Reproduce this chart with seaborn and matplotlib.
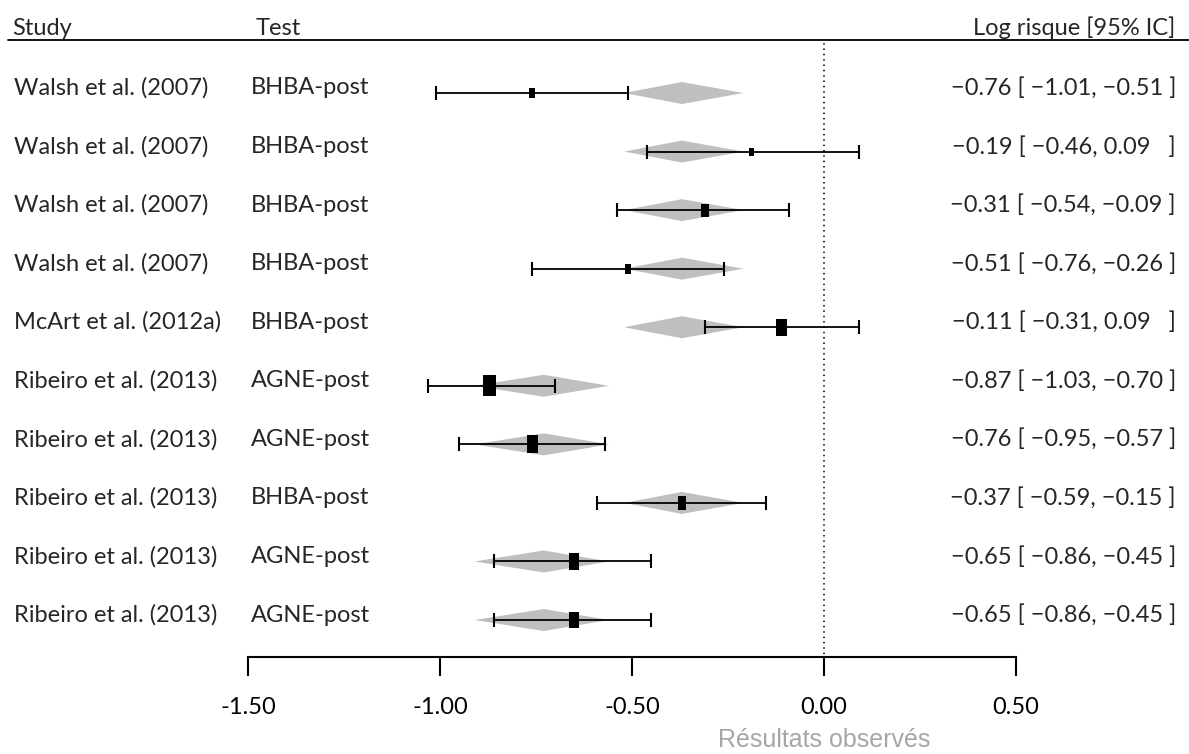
import numpy as np
import pandas as pd
import seaborn as sns
import matplotlib.pyplot as plt

studies = [
    "Walsh et al. (2007)", "Walsh et al. (2007)", "Walsh et al. (2007)",
    "Walsh et al. (2007)", "McArt et al. (2012a)", "Ribeiro et al. (2013)",
    "Ribeiro et al. (2013)", "Ribeiro et al. (2013)", "Ribeiro et al. (2013)",
    "Ribeiro et al. (2013)",
]
tests = [
    "BHBA-post", "BHBA-post", "BHBA-post", "BHBA-post", "BHBA-post",
    "AGNE-post", "AGNE-post", "BHBA-post", "AGNE-post", "AGNE-post",
]
estimate = [-0.76, -0.19, -0.31, -0.51, -0.11, -0.87, -0.76, -0.37, -0.65, -0.65]
ci_low = [-1.01, -0.46, -0.54, -0.76, -0.31, -1.03, -0.95, -0.59, -0.86, -0.86]
ci_high = [-0.51, 0.09, -0.09, -0.26, 0.09, -0.70, -0.57, -0.15, -0.45, -0.45]
weight = [4.6, 2.9, 7.7, 4.6, 13.2, 20.1, 14.8, 8.9, 11.7, 11.7]
ci_labels = [
    "\u22120.76 [ \u22121.01, \u22120.51 ]",
    "\u22120.19 [ \u22120.46, 0.09   ]",
    "\u22120.31 [ \u22120.54, \u22120.09 ]",
    "\u22120.51 [ \u22120.76, \u22120.26 ]",
    "\u22120.11 [ \u22120.31, 0.09   ]",
    "\u22120.87 [ \u22121.03, \u22120.70 ]",
    "\u22120.76 [ \u22120.95, \u22120.57 ]",
    "\u22120.37 [ \u22120.59, \u22120.15 ]",
    "\u22120.65 [ \u22120.86, \u22120.45 ]",
    "\u22120.65 [ \u22120.86, \u22120.45 ]",
]

# pooled estimate per test type (grey diamonds)
pooled_test = ["BHBA-post", "AGNE-post"]
pooled_est = [-0.37, -0.73]
pooled_low = [-0.52, -0.91]
pooled_high = [-0.21, -0.56]

ticks = [-1.50, -1.00, -0.50, 0.00, 0.50]

df = pd.DataFrame({
    "study": studies, "test": tests, "est": estimate,
    "lo": ci_low, "hi": ci_high, "w": weight, "lab": ci_labels,
})
df["row"] = np.arange(len(df))

sns.set_style("white")
plt.rcParams["font.family"] = ["Lato", "DejaVu Sans"]
FS = 17

fig = plt.figure(figsize=(11.89, 7.54), dpi=100)
ax = fig.add_axes([0, 0, 1, 1])

# pixel layout: x = -1.5 at 248px, 0 at 824px ; rows every 58.56px from 93px
px_per_unit = 384.0
x0_px = 824.0
row_px = 58.56
row0_px = 93.0
ax.set_xlim((0 - x0_px) / px_per_unit, (1189 - x0_px) / px_per_unit)
ax.set_ylim((754 - row0_px) / row_px, (0 - row0_px) / row_px)


def ypx(p):
    return (p - row0_px) / row_px


def xpx(p):
    return (p - x0_px) / px_per_unit


# diamonds
half_h = 11.0 / row_px
pooled = dict(zip(pooled_test, zip(pooled_est, pooled_low, pooled_high)))
for _, r in df.iterrows():
    m, lo, hi = pooled[r["test"]]
    y = r["row"]
    ax.fill([lo, m, hi, m], [y, y - half_h, y, y + half_h],
            color="#bfbfbf", lw=0, zorder=1)

# confidence intervals
ax.errorbar(df["est"], df["row"],
            xerr=[df["est"] - df["lo"], df["hi"] - df["est"]],
            fmt="none", ecolor="black", elinewidth=1.3, capsize=5.2,
            capthick=1.5, zorder=2)

# weighted squares (taller than wide)
rect = [(-0.31, -0.5), (0.31, -0.5), (0.31, 0.5), (-0.31, 0.5)]
sns.scatterplot(data=df, x="est", y="row", size="w", sizes=(0, 230),
                size_norm=(0, max(weight)), marker=rect, color="black",
                linewidth=0, legend=False, ax=ax, zorder=3)

# zero reference line
ax.plot([0, 0], [ypx(43), ypx(656)], color="black", lw=1.1,
        linestyle=(0, (1, 2.5)), zorder=0)

# header
ax.plot([xpx(8), xpx(1189)], [ypx(40.5), ypx(40.5)], color="black", lw=1.3)
hdr_y = ypx(35)
ax.text(xpx(12), hdr_y, "Study", fontsize=FS, va="baseline", ha="left")
ax.text(xpx(256), hdr_y, "Test", fontsize=FS, va="baseline", ha="left")
ax.text(xpx(1175), hdr_y, "Log risque [95% IC]", fontsize=FS,
        va="baseline", ha="right")

# row texts
for _, r in df.iterrows():
    y = r["row"] - 5.0 / row_px
    ax.text(xpx(14), y, r["study"], fontsize=FS, va="center", ha="left")
    ax.text(xpx(251), y, r["test"], fontsize=FS, va="center", ha="left")
    ax.text(xpx(1176), y, r["lab"], fontsize=FS, va="center", ha="right")

# bottom axis
for s in ["top", "right", "left"]:
    ax.spines[s].set_visible(False)
ax.spines["bottom"].set_position(("data", ypx(656.5)))
ax.spines["bottom"].set_bounds(ticks[0], ticks[-1])
ax.spines["bottom"].set_linewidth(1.5)
ax.spines["bottom"].set_color("black")
ax.set_xticks(ticks)
ax.set_xticklabels([f"{t:.2f}" for t in ticks], fontsize=FS)
ax.tick_params(axis="x", direction="out", length=13.5, width=1.5,
               pad=16, bottom=True, colors="black")
ax.set_yticks([])
ax.set_xlabel("")
ax.set_ylabel("")

ax.text(0.0, ypx(740), "Résultats observés", fontsize=18, color="#a6a6a6",
        family="Liberation Sans", ha="center", va="center")

fig.savefig("out.png", dpi=100)
